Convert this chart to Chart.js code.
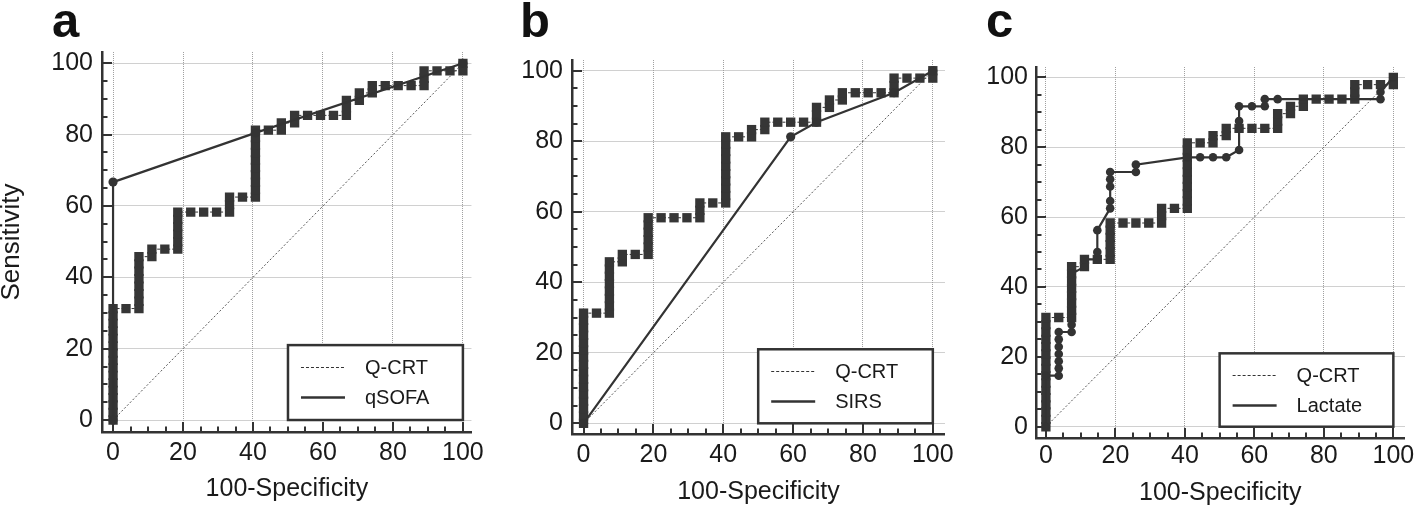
<!DOCTYPE html>
<html><head><meta charset="utf-8">
<script src="https://cdn.jsdelivr.net/npm/chart.js@4.4.1/dist/chart.umd.min.js"></script>
<style>
html,body{margin:0;padding:0;background:#fff;width:1418px;height:511px;overflow:hidden;position:relative}
canvas.panel{position:absolute;top:0}
.letter{position:absolute;font:bold 49px 'Liberation Sans',Arial,sans-serif;color:#111;line-height:48px}
</style></head><body>
<div class="letter" style="left:52px;top:-4px">a</div>
<div class="letter" style="left:520px;top:-4px">b</div>
<div class="letter" style="left:986px;top:-4px">c</div>
<canvas id="ca" class="panel" width="490" height="511" style="left:0px"></canvas>
<canvas id="cb" class="panel" width="480" height="511" style="left:480px"></canvas>
<canvas id="cc" class="panel" width="458" height="511" style="left:960px"></canvas>
<script>
// ---------- data ----------
const tickValues = [0, 20, 40, 60, 80, 100];
const minorTickValues = [5, 10, 15, 25, 30, 35, 45, 50, 55, 65, 70, 75, 85, 90, 95];
const xTitle = '100-Specificity';
const yTitle = 'Sensitivity';

// Q-CRT (same curve in all panels): 100-Specificity / Sensitivity
const qcrtX = [
  0,0,0,0,0,0,0,0,0,0,0,0,0,0,0,0,
  3.7,
  7.4,7.4,7.4,7.4,7.4,7.4,7.4,7.4,
  11.1,11.1,
  14.8,
  18.5,18.5,18.5,18.5,18.5,18.5,
  22.2,25.9,29.6,
  33.3,33.3,33.3,
  37.0,
  40.7,40.7,40.7,40.7,40.7,40.7,40.7,40.7,40.7,40.7,
  44.4,
  48.1,48.1,
  51.9,51.9,
  55.6,59.3,63.0,
  66.7,66.7,66.7,
  70.4,70.4,
  74.1,74.1,
  77.8,81.5,85.2,
  88.9,88.9,88.9,
  92.6,96.3,
  100,100
];
const qcrtY = [
  0,2.1,4.2,6.25,8.3,10.4,12.5,14.6,16.7,18.75,20.8,22.9,25,27.1,29.2,31.25,
  31.25,
  31.25,33.3,35.4,37.5,39.6,41.7,43.75,45.8,
  45.8,47.9,
  47.9,
  47.9,50,52.1,54.2,56.25,58.3,
  58.3,58.3,58.3,
  58.3,60.4,62.5,
  62.5,
  62.5,64.6,66.7,68.75,70.8,72.9,75,77.1,79.2,81.25,
  81.25,
  81.25,83.3,
  83.3,85.4,
  85.4,85.4,85.4,
  85.4,87.5,89.6,
  89.6,91.7,
  91.7,93.75,
  93.75,93.75,93.75,
  93.75,95.8,97.9,
  97.9,97.9,
  97.9,100
];
const qsofaX = [0, 0, 40.7, 100];
const qsofaY = [0, 66.7, 80.5, 100];
const sirsX = [0, 59.3, 66.7, 88.9, 100];
const sirsY = [0, 81.25, 85.4, 93.75, 100];
const lactateX = [
  0,0,
  3.7,3.7,3.7,3.7,3.7,3.7,3.7,
  7.4,7.4,7.4,7.4,7.4,7.4,7.4,7.4,7.4,
  11.1,11.1,
  14.8,14.8,14.8,
  18.5,18.5,18.5,18.5,18.5,
  25.9,25.9,
  40.7,44.4,48.1,51.9,
  55.6,55.6,55.6,55.6,
  59.3,
  63.0,63.0,
  66.7,
  96.3,96.3,
  100
];
const lactateY = [
  0,14.6,
  14.6,16.7,18.75,20.8,22.9,25,27.1,
  27.1,29.2,31.25,33.3,35.4,37.5,39.6,41.7,43.75,
  45.8,47.9,
  47.9,50,56.25,
  62.5,64.6,68.75,70.8,72.9,
  72.9,75,
  77.1,77.1,77.1,77.1,
  79.2,85.4,87.5,91.7,
  91.7,
  91.7,93.75,
  93.75,
  93.75,95.8,
  100
];
const refX = [0, 100];
const refY = [0, 100];
const seriesNames = { qcrt: 'Q-CRT', qsofa: 'qSOFA', sirs: 'SIRS', lactate: 'Lactate' };

// ---------- helpers ----------
const FONT = "'Liberation Sans', Arial, Helvetica, sans-serif";
const INK = '#333333';
const pts = (xs, ys) => xs.map((x, i) => ({ x: x, y: ys[i] }));

const innerTicks = {
  id: 'innerTicks',
  beforeDatasetsDraw(chart) {
    const { ctx, chartArea: ca, scales: { x, y } } = chart;
    ctx.save();
    ctx.strokeStyle = INK; ctx.lineWidth = 2; ctx.setLineDash([]);
    const all = tickValues.map(v => [v, 10]).concat(minorTickValues.map(v => [v, 5.5]));
    all.forEach(([v, len]) => {
      const px = Math.round(x.getPixelForValue(v));
      ctx.beginPath(); ctx.moveTo(px, ca.bottom); ctx.lineTo(px, ca.bottom - len); ctx.stroke();
      const py = Math.round(y.getPixelForValue(v));
      ctx.beginPath(); ctx.moveTo(ca.left, py); ctx.lineTo(ca.left + len, py); ctx.stroke();
    });
    ctx.restore();
  }
};

const boxLegend = {
  id: 'boxLegend',
  afterDraw(chart, args, opts) {
    const { ctx, scales: { x, y } } = chart;
    const l = x.getPixelForValue(50), r = x.getPixelForValue(100);
    const t = y.getPixelForValue(21), b = y.getPixelForValue(0);
    ctx.save();
    ctx.fillStyle = '#fff'; ctx.fillRect(l, t, r - l, b - t);
    ctx.lineWidth = 2.5; ctx.strokeStyle = INK; ctx.setLineDash([]);
    ctx.strokeRect(l, t, r - l, b - t);
    opts.items.forEach((name, i) => {
      const ds = chart.data.datasets.find(d => d.label === name);
      const yy = Math.round(t + 22 + i * 30) + 0.5;
      ctx.beginPath();
      ctx.setLineDash(ds.borderDash || []);
      ctx.lineWidth = ds.borderDash ? 1 : 2.5;
      ctx.strokeStyle = INK;
      ctx.moveTo(l + 13, yy); ctx.lineTo(l + 57, yy); ctx.stroke();
      ctx.setLineDash([]);
      ctx.fillStyle = '#1a1a1a';
      ctx.font = '20px ' + FONT;
      ctx.textBaseline = 'middle';
      ctx.fillText(name, l + 77, yy + 0.5);
    });
    ctx.restore();
  }
};

function makePanel(id, p, curveName, curveX, curveY, curveStyle) {
  const datasets = [
    { label: 'ref', data: pts(refX, refY), showLine: true, borderColor: '#555', borderWidth: 1,
      borderDash: [2, 2], pointRadius: 0, order: 3 },
    { label: seriesNames.qcrt, data: pts(qcrtX, qcrtY), showLine: true, borderColor: INK, borderWidth: 1,
      borderDash: [3, 2], pointStyle: 'rect', pointRadius: 6.6, pointBackgroundColor: '#363636',
      pointBorderWidth: 0, order: 2 },
    { label: curveName, data: pts(curveX, curveY), showLine: true, borderColor: INK, borderWidth: 2.2,
      pointStyle: 'circle', pointRadius: curveStyle.r, pointBackgroundColor: INK, pointBorderWidth: 0, order: 1 }
  ];
  return new Chart(document.getElementById(id), {
    type: 'scatter',
    data: { datasets },
    plugins: [innerTicks, boxLegend],
    options: {
      responsive: false, animation: false, devicePixelRatio: 1,
      layout: { padding: { left: 0, right: p.padR, top: p.padT, bottom: 0 } },
      plugins: {
        legend: { display: false }, tooltip: { enabled: false },
        boxLegend: { items: [seriesNames.qcrt, curveName] }
      },
      elements: { line: { tension: 0 } },
      scales: {
        x: {
          type: 'linear', min: p.xmin, max: p.xmax,
          afterBuildTicks: s => { s.ticks = tickValues.map(v => ({ value: v })); },
          afterFit: s => { s.height = p.xH; },
          grid: { color: '#a0a0a0', lineWidth: 1, drawTicks: false },
          border: { display: true, color: INK, width: 2.5, dash: [1, 1] },
          ticks: { font: { size: 25, family: FONT }, color: '#1a1a1a', padding: p.xTickPad,
                   maxRotation: 0, autoSkip: false },
          title: { display: true, text: xTitle, font: { size: 25, family: FONT }, color: '#1a1a1a',
                   padding: { top: 0, bottom: p.xTitlePad } }
        },
        y: {
          type: 'linear', min: p.ymin, max: p.ymax,
          afterBuildTicks: s => { s.ticks = tickValues.map(v => ({ value: v })); },
          afterFit: s => { s.width = p.yW; },
          grid: { color: '#a0a0a0', lineWidth: 1, drawTicks: false },
          border: { display: true, color: INK, width: 2.5, dash: [1, 1] },
          ticks: { font: { size: 25, family: FONT }, color: '#1a1a1a', padding: p.yTickPad, autoSkip: false },
          title: { display: p.showYTitle, text: yTitle, font: { size: 26, family: FONT, lineHeight: 0.9 },
                   color: '#1a1a1a', padding: { top: 0, bottom: 0 } }
        }
      }
    }
  });
}

makePanel('ca', { padR: 10, padT: 52, yW: 102, xH: 79, xmin: -3.16, xmax: 102.52, ymin: -3.36, ymax: 103.17,
  xTickPad: 6, yTickPad: 9, xTitlePad: 7, showYTitle: true },
  seriesNames.qsofa, qsofaX, qsofaY, { r: 4.6 });
makePanel('cb', { padR: 10, padT: 60, yW: 92, xH: 77, xmin: -3.31, xmax: 103.47, ymin: -3.03, ymax: 103.04,
  xTickPad: 6, yTickPad: 9, xTitlePad: 4, showYTitle: false },
  seriesNames.sirs, sirsX, sirsY, { r: 4.6 });
makePanel('cc', { padR: 10, padT: 67, yW: 76, xH: 73, xmin: -2.85, xmax: 103.22, ymin: -3.23, ymax: 102.95,
  xTickPad: 3.5, yTickPad: 8, xTitlePad: 2.5, showYTitle: false },
  seriesNames.lactate, lactateX, lactateY, { r: 4.3 });
</script>
</body></html>
